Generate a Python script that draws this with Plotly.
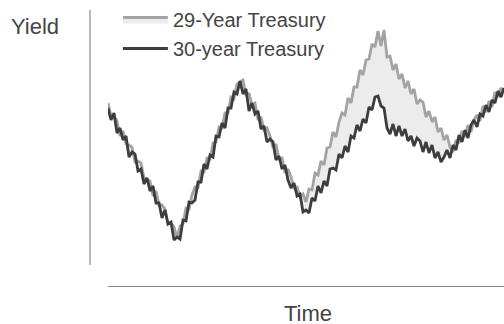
import plotly.graph_objects as go

# Time steps (no ticks shown on the axis)
time_steps = list(range(133))

# 30-year Treasury yield (%)
yield_30yr = [
    2.78, 2.66, 2.73, 2.53, 2.58, 2.46, 2.50, 2.29, 2.34, 2.32, 2.15, 2.17, 2.02, 2.08, 1.95, 2.00,
    1.83, 1.83, 1.68, 1.76, 1.62, 1.64, 1.46, 1.49,
    1.47, 1.66, 1.65, 1.84, 1.83, 1.86, 2.04, 2.04, 2.22, 2.17, 2.31, 2.29, 2.50, 2.49, 2.63, 2.58,
    2.78, 2.78, 2.94, 2.92, 3.05,
    2.92, 2.97, 2.75, 2.83, 2.72, 2.75, 2.57, 2.60, 2.44, 2.47, 2.44, 2.26, 2.30, 2.17, 2.21, 2.06,
    1.98, 2.03, 1.90, 1.92, 1.74, 1.76,
    1.73, 1.88, 1.85, 2.00, 1.93, 2.05, 2.00, 2.17, 2.18, 2.16, 2.32, 2.28, 2.40, 2.34, 2.50, 2.48,
    2.61, 2.55, 2.67, 2.63, 2.79, 2.76, 2.89, 2.90,
    2.80, 2.78, 2.58, 2.52, 2.62, 2.50, 2.60, 2.50, 2.57, 2.45, 2.50, 2.40, 2.48, 2.45, 2.34, 2.44,
    2.33, 2.41, 2.28, 2.34, 2.24, 2.29,
    2.36, 2.28, 2.41, 2.36, 2.51, 2.44, 2.56, 2.48, 2.61, 2.66, 2.59, 2.72, 2.70, 2.81, 2.74, 2.86,
    2.83, 2.95, 2.89, 2.98,
]

# 29-year Treasury yield (%)
yield_29yr = [
    2.83, 2.70, 2.70, 2.65, 2.50, 2.55, 2.42, 2.41, 2.39, 2.24, 2.25, 2.23, 2.08, 2.07, 2.05, 1.90,
    1.95, 1.81, 1.81, 1.77, 1.62, 1.63, 1.59, 1.48,
    1.60, 1.62, 1.78, 1.77, 1.91, 1.99, 1.98, 2.15, 2.14, 2.28, 2.27, 2.43, 2.44, 2.59, 2.58, 2.73,
    2.73, 2.89, 2.87, 3.02, 3.04,
    3.06, 2.90, 2.93, 2.81, 2.83, 2.66, 2.69, 2.56, 2.58, 2.50, 2.38, 2.42, 2.27, 2.28, 2.13, 2.17,
    2.09, 1.98, 1.99,
    1.89, 1.92, 1.84, 1.97, 1.96, 2.13, 2.11, 2.25, 2.21, 2.38, 2.39, 2.54, 2.49, 2.64, 2.73, 2.71,
    2.88, 2.83, 2.99, 2.99, 3.16, 3.11, 3.26, 3.27, 3.42, 3.39, 3.55, 3.40, 3.56, 3.29, 3.30,
    3.16, 3.22, 3.07, 3.12, 2.98, 3.05, 2.92, 2.97, 2.82, 2.86, 2.84, 2.69, 2.75, 2.64, 2.69, 2.54,
    2.58, 2.46, 2.51, 2.39,
    2.34, 2.46, 2.43, 2.55, 2.49, 2.61, 2.54, 2.66, 2.71, 2.65, 2.80, 2.74, 2.85, 2.79, 2.94, 2.89,
    2.98, 2.94,
]

LIGHT = "#a3a3a3"
DARK = "#3d3d3d"
TEXT = "#444444"
AXIS = "#8a8a8a"
FONT = "Liberation Sans, Arial, sans-serif"

fig = go.Figure()

# invisible base for the shaded spread
fig.add_trace(go.Scatter(
    x=time_steps, y=yield_30yr, mode="lines",
    line=dict(width=0, color=DARK), showlegend=False, hoverinfo="skip",
))
fig.add_trace(go.Scatter(
    x=time_steps, y=yield_29yr, mode="lines", name="29-Year Treasury",
    line=dict(width=2.8, color=LIGHT), fill="tonexty", fillcolor="#ececec",
    legendgroup="a",
))
fig.add_trace(go.Scatter(
    x=time_steps, y=yield_30yr, mode="lines", name="30-year Treasury",
    line=dict(width=2.8, color=DARK), legendgroup="b",
))

fig.update_layout(
    width=504, height=324,
    margin=dict(l=108, r=0, t=0, b=38),
    paper_bgcolor="white", plot_bgcolor="white",
    font=dict(family=FONT, color=TEXT),
    xaxis=dict(range=[0, 132], showgrid=False, zeroline=False, showticklabels=False,
               ticks="", showline=True, linecolor=AXIS, linewidth=1.2),
    yaxis=dict(range=[1.0, 3.86], showgrid=False, zeroline=False, showticklabels=False,
               ticks="", showline=False),
    legend=dict(x=0.025, y=1.0, xanchor="left", yanchor="top", font=dict(size=20, color=TEXT),
                bgcolor="rgba(0,0,0,0)", traceorder="grouped", tracegroupgap=0,
                itemwidth=45),
    showlegend=True,
    annotations=[
        dict(text="Yield", xref="paper", yref="paper", x=-0.185, y=0.906,
             xanchor="center", yanchor="middle", showarrow=False,
             font=dict(size=22, color=TEXT)),
        dict(text="Time", xref="paper", yref="paper", x=0.505, y=-0.096,
             xanchor="center", yanchor="middle", showarrow=False,
             font=dict(size=22, color=TEXT)),
    ],
    shapes=[
        dict(type="line", xref="paper", yref="paper", x0=-0.0455, x1=-0.0455,
             y0=0.0734, y1=0.965, line=dict(color=AXIS, width=1.2)),
    ],
)

fig.write_html("out.html")
